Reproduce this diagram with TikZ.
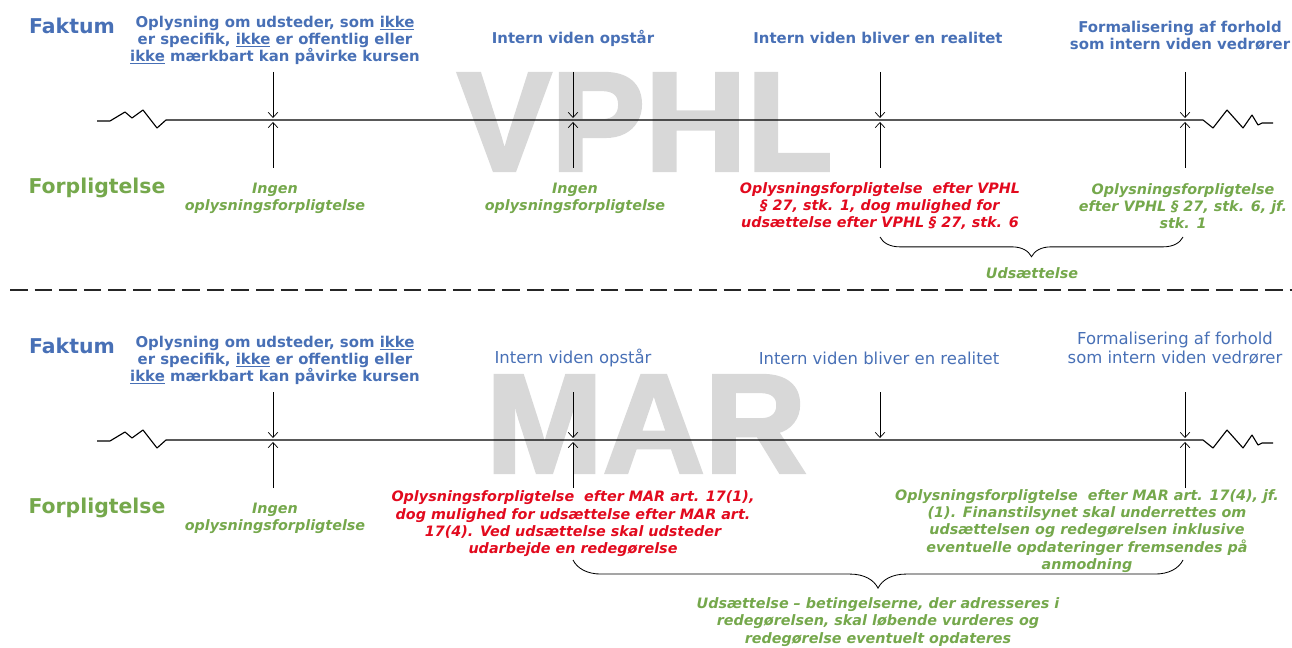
\documentclass[tikz,border=0pt]{standalone}
\usepackage{fontspec}
\setmainfont{DejaVu Sans}
\newfontfamily\wmfont[FakeBold=2.5]{Liberation Sans Bold}
\definecolor{faktblue}{RGB}{72,112,182}
\definecolor{forpgreen}{RGB}{117,168,76}
\definecolor{oplred}{RGB}{226,10,30}
\definecolor{wmgray}{RGB}{216,216,216}
\usetikzlibrary{arrows.meta,decorations.pathreplacing}

\begin{document}
\begin{tikzpicture}[x=0.025cm, y=-0.025cm,
    head/.style={font=\fontsize{14.5}{17}\selectfont\bfseries, inner sep=0pt},
    fakt/.style={head, text=faktblue},
    forp/.style={head, text=forpgreen},
    evt/.style={font=\fontsize{10.6}{12.1}\selectfont\bfseries, text=faktblue,
      align=center, inner sep=0pt},
    evtn/.style={font=\fontsize{11.7}{13.5}\selectfont, text=faktblue,
      align=center, inner sep=0pt},
    opl/.style={font=\fontsize{10.2}{12.3}\selectfont\bfseries\itshape,
      align=center, inner sep=0pt},
    nopl/.style={opl, text=forpgreen},
    ropl/.style={opl, text=oplred},
    wmark/.style={font=\wmfont\fontsize{100}{100}\selectfont,
      text=wmgray, inner sep=0pt},
    tline/.style={line width=0.8pt, line join=bevel},
    arr/.style={-{Straight Barb[length=1.3mm,width=2.4mm]}, line width=0.5pt,
      shorten >=1.4pt},
    brc/.style={decorate, decoration={brace, mirror, amplitude=#1},
      line width=0.6pt},
    sepline/.style={line width=2pt, dash pattern=on 12.5pt off 5pt, draw=black!85},
  ]
  \useasboundingbox (0,0) rectangle (1292,648);

  % watermarks
  \node[wmark] (wmvphl) at (645,122) {VPHL};
  \node[wmark] (wmmar) at (646,424) {MAR};

  % ---------------- VPHL ----------------
  \draw[tline] (97,121) -- (110,121) -- (125,112) -- (132,118) -- (143,110)
    -- (157,128) -- (166,120) -- (1203,120) -- (1213,128) -- (1227,110)
    -- (1243,128) -- (1252,115) -- (1258,125) -- (1262,123) -- (1273,123);

  \coordinate (p1) at (273,120);
  \coordinate (p2) at (573,120);
  \coordinate (p3) at (880,120);
  \coordinate (p4) at (1185,120);
  \coordinate (s1) at (273,72);
  \coordinate (s2) at (573,72);
  \coordinate (s3) at (880,72);
  \coordinate (s4) at (1185,72);
  \coordinate (u1) at (273,168);
  \coordinate (u2) at (573,168);
  \coordinate (u3) at (880,168);
  \coordinate (u4) at (1185,168);

  \node[fakt] (fakt1) at (72,26) {Faktum};
  \node[forp] (forp1) at (97,188) {Forpligtelse};

  \node[evt] (oplys1) at (275,40)
    {Oplysning om udsteder, som \underline{ikke}\\er specifik, \underline{ikke} er offentlig eller\\\underline{ikke} mærkbart kan påvirke kursen};
  \node[evt] (opstar1) at (573,38) {Intern viden opstår};
  \node[evt] (realitet1) at (878,38) {Intern viden bliver en realitet};
  \node[evt] (formal1) at (1180,36) {Formalisering af forhold\\som intern viden vedrører};

  \node[nopl] (ingen1a) at (275,198) {Ingen\\oplysningsforpligtelse};
  \node[nopl] (ingen1b) at (575,198) {Ingen\\oplysningsforpligtelse};
  \node[ropl] (pligt1) at (880,206)
    {Oplysningsforpligtelse\ \ efter VPHL\\§ 27, stk. 1, dog mulighed for\\udsættelse efter VPHL § 27, stk. 6};
  \node[nopl] (pligt1b) at (1183,206)
    {Oplysningsforpligtelse\\efter VPHL § 27, stk. 6, jf.\\stk. 1};

  \draw[arr] (s1) -- (p1);
  \draw[arr] (s2) -- (p2);
  \draw[arr] (s3) -- (p3);
  \draw[arr] (s4) -- (p4);
  \draw[arr] (u1) -- (p1);
  \draw[arr] (u2) -- (p2);
  \draw[arr] (u3) -- (p3);
  \draw[arr] (u4) -- (p4);

  \coordinate (b1l) at (880,237);
  \coordinate (b1r) at (1183,237);
  \draw[brc=14pt] (b1l) -- (b1r);
  \node[nopl] (udsat1) at (1032,273) {Udsættelse};

  \draw[sepline] (10,290) -- (1292,290);

  % ---------------- MAR ----------------
  \draw[tline] (97,441) -- (110,441) -- (125,432) -- (132,438) -- (143,430)
    -- (157,448) -- (166,440) -- (1203,440) -- (1213,448) -- (1227,430)
    -- (1243,448) -- (1252,435) -- (1258,445) -- (1262,443) -- (1273,443);

  \coordinate (q1) at (273,440);
  \coordinate (q2) at (573,440);
  \coordinate (q3) at (880,440);
  \coordinate (q4) at (1185,440);
  \coordinate (r1) at (273,392);
  \coordinate (r2) at (573,392);
  \coordinate (r3) at (880,392);
  \coordinate (r4) at (1185,392);
  \coordinate (v1) at (273,488);
  \coordinate (v2) at (573,488);
  \coordinate (v4) at (1185,488);

  \node[fakt] (fakt2) at (72,346) {Faktum};
  \node[forp] (forp2) at (97,508) {Forpligtelse};

  \node[evt] (oplys2) at (275,360)
    {Oplysning om udsteder, som \underline{ikke}\\er specifik, \underline{ikke} er offentlig eller\\\underline{ikke} mærkbart kan påvirke kursen};
  \node[evtn] (opstar2) at (573,358) {Intern viden opstår};
  \node[evtn] (realitet2) at (879,358) {Intern viden bliver en realitet};
  \node[evtn] (formal2) at (1175,348) {Formalisering af forhold\\som intern viden vedrører};

  \node[nopl] (ingen2) at (275,518) {Ingen\\oplysningsforpligtelse};
  \node[ropl] (pligt2) at (573,524)
    {Oplysningsforpligtelse\ \ efter MAR art. 17(1),\\dog mulighed for udsættelse efter MAR art.\\17(4). Ved udsættelse skal udsteder\\udarbejde en redegørelse};
  \node[nopl] (pligt2b) at (1087,531)
    {Oplysningsforpligtelse\ \ efter MAR art. 17(4), jf.\\(1). Finanstilsynet skal underrettes om\\udsættelsen og redegørelsen inklusive\\eventuelle opdateringer fremsendes på\\anmodning};

  \draw[arr] (r1) -- (q1);
  \draw[arr] (r2) -- (q2);
  \draw[arr] (r3) -- (q3);
  \draw[arr] (r4) -- (q4);
  \draw[arr] (v1) -- (q1);
  \draw[arr] (v2) -- (q2);
  \draw[arr] (v4) -- (q4);

  \coordinate (b2l) at (573,560);
  \coordinate (b2r) at (1183,560);
  \draw[brc=20pt] (b2l) -- (b2r);
  \node[nopl] (udsat2) at (878,622)
    {Udsættelse – betingelserne, der adresseres i\\redegørelsen, skal løbende vurderes og\\redegørelse eventuelt opdateres};
\end{tikzpicture}
\end{document}
